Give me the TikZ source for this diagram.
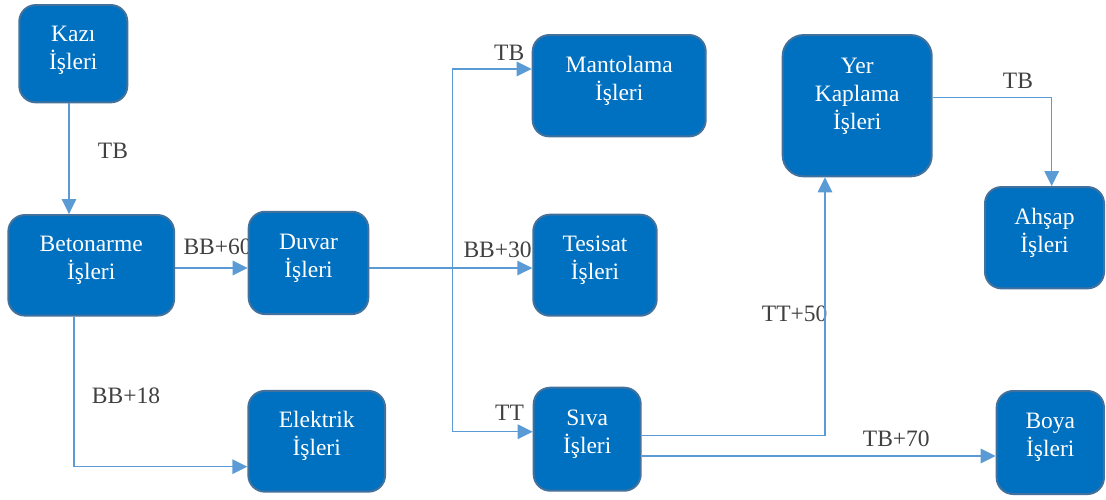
\documentclass[tikz,border=0pt]{standalone}
\usepackage{fontspec}
\setmainfont{Liberation Serif}
\usetikzlibrary{arrows.meta}
\definecolor{boxfill}{HTML}{0070C0}
\definecolor{boxline}{HTML}{41719C}
\definecolor{conncol}{HTML}{5B9BD5}
\definecolor{lblcol}{HTML}{404040}
\tikzset{
  box/.style={draw=boxline, line width=2pt, fill=boxfill, rounded corners=16.5pt, inner sep=0pt},
  boxtext/.style={text=white, align=center, font=\fontsize{23.5}{28}\selectfont, inner sep=0pt, yshift=5pt},
  conn/.style={draw=conncol, line width=1.5pt, -{Triangle[length=15pt,width=14.5pt]}},
  lbl/.style={text=lblcol, font=\fontsize{23.5}{28}\selectfont, inner sep=0pt, anchor=west}
}
\begin{document}
\begin{tikzpicture}[x=1pt,y=-1pt]
\useasboundingbox (0,0) rectangle (1106,499);
% labels (drawn first, boxes cover them)
\node[lbl] (lkb) at (97.7,150.7) {TB};
\node[lbl] (lbd) at (183.3,246.7) {BB+60};
\node[lbl] (lbe) at (91.7,395.7) {BB+18};
\node[lbl] (ldm) at (494,53) {TB};
\node[lbl] (ldt) at (463.3,250) {BB+30};
\node[lbl] (lds) at (495,412.3) {TT};
\node[lbl] (lsy) at (761.7,313.3) {TT+50};
\node[lbl] (lsb) at (862.7,438.3) {TB+70};
\node[lbl] (lya) at (1002.7,81) {TB};
% boxes
\node[box, minimum width=108pt, minimum height=97.3pt,
  label={[boxtext, yshift=-1.5pt]center:{Kazı\\İşleri}}] (kazi) at (73.3,53.7) {};
\node[box, minimum width=165.7pt, minimum height=100.5pt,
  label={[boxtext]center:{Betonarme\\İşleri}}] (beton) at (91.2,265.3) {};
\node[box, minimum width=119.6pt, minimum height=102.3pt,
  label={[boxtext]center:{Duvar\\İşleri}}] (duvar) at (308.5,262.9) {};
\node[box, minimum width=173pt, minimum height=101.3pt,
  label={[boxtext]center:{Mantolama\\İşleri}}] (manto) at (619.2,85.7) {};
\node[box, minimum width=123.4pt, minimum height=101pt,
  label={[boxtext]center:{Tesisat\\İşleri}}] (tesisat) at (595,265.2) {};
\node[box, minimum width=107pt, minimum height=103pt,
  label={[boxtext]center:{Sıva\\İşleri}}] (siva) at (587.2,439.2) {};
\node[box, minimum width=136.7pt, minimum height=100.7pt,
  label={[boxtext]center:{Elektrik\\İşleri}}] (elektrik) at (316.7,441.3) {};
\node[box, minimum width=149pt, minimum height=141.3pt, rounded corners=21pt,
  label={[boxtext, yshift=4pt]center:{Yer\\Kaplama\\İşleri}}] (yer) at (857.2,105.7) {};
\node[box, minimum width=119pt, minimum height=101.3pt,
  label={[boxtext]center:{Ahşap\\İşleri}}] (ahsap) at (1044.5,237.7) {};
\node[box, minimum width=107.3pt, minimum height=103pt,
  label={[boxtext]center:{Boya\\İşleri}}] (boya) at (1050.3,442.5) {};
% connector end points on the box borders
\coordinate (j) at (452.4,268);
\coordinate (kz) at ([xshift=-4.3pt]kazi.south);
\coordinate (bt) at ([yshift=-2.7pt]beton.east);
\coordinate (bs) at ([xshift=-17.2pt]beton.south);
\coordinate (ew) at ([yshift=-25.4pt]elektrik.west);
\coordinate (mw) at ([yshift=16.7pt]manto.west);
\coordinate (sw) at ([yshift=7.5pt]siva.west);
\coordinate (se1) at ([yshift=3.5pt]siva.east);
\coordinate (se2) at ([yshift=-16.8pt]siva.east);
\coordinate (ys) at ([xshift=-32.2pt]yer.south);
\coordinate (ye) at ([yshift=8.4pt]yer.east);
\coordinate (an) at ([xshift=7.2pt]ahsap.north);
% connectors
\draw[conn] (kz) -- (kz |- beton.north);
\draw[conn] (bt) -- (duvar.west |- bt);
\draw[conn] (bs) |- (ew);
\draw[conn] (duvar.east |- j) -- (tesisat.west |- j);
\draw[conn] (j) |- (mw);
\draw[conn] (j) |- (sw);
\draw[conn] (se1) -| (ys);
\draw[conn] (se2) -- (boya.west |- se2);
\draw[conn] (ye) -| (an);
\end{tikzpicture}
\end{document}
